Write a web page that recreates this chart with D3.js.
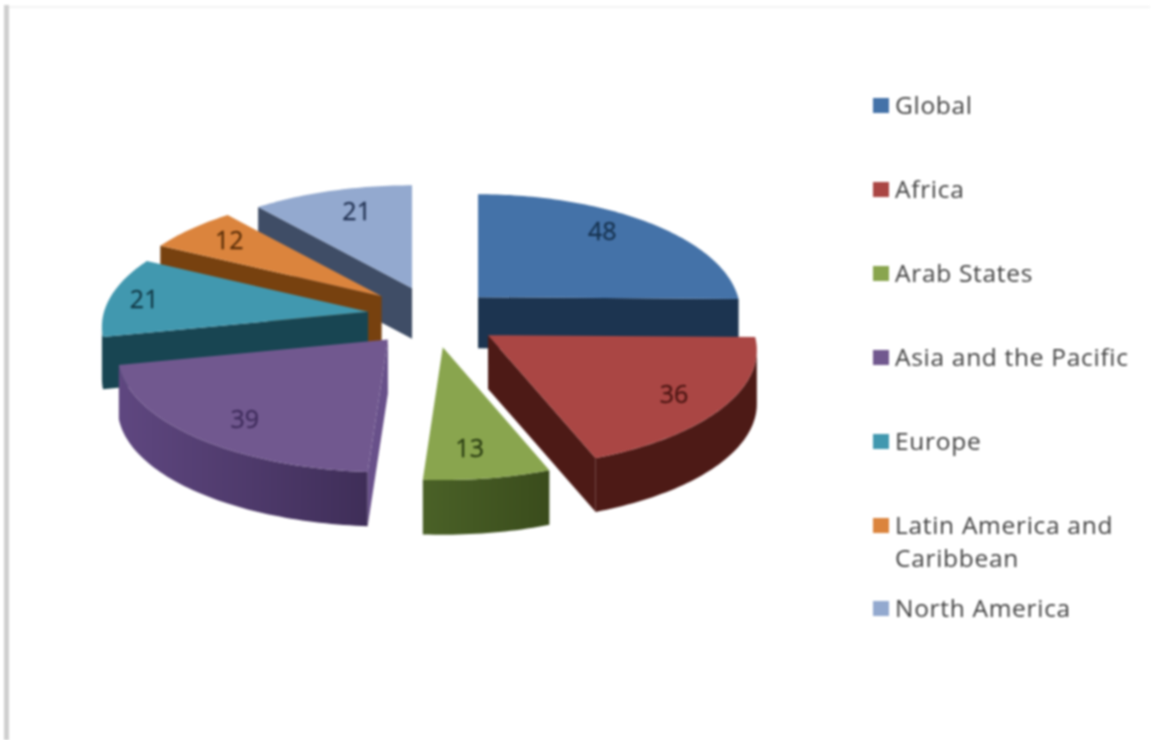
<!DOCTYPE html>
<html><head><meta charset="utf-8">
<script src="https://cdn.jsdelivr.net/npm/d3@7/dist/d3.min.js"></script>
<style>html,body{margin:0;background:#fff}svg{display:block;filter:blur(0.8px)}</style>
</head><body><svg id="c" width="1154" height="740"></svg>
<script>
const categories = ["Global","Africa","Arab States","Asia and the Pacific","Europe","Latin America and Caribbean","North America"];
const values = [48,36,13,39,21,12,21];
const topColors = ["#4472a8","#aa4644","#89a54e","#71588f","#4198af","#db843d","#93a9cf"];
const cutColors = ["#1c3450","#4d1a16","#3f5420","#68508a","#184552","#77410f","#3f4d66"];
const rimLeft  = ["#1c3450","#4d1a16","#4a6127","#5f4780","#184552","#77410f","#3f4d66"];
const rimRight = ["#1c3450","#4d1a16","#3a4c1c","#3f2e58","#184552","#77410f","#3f4d66"];
const labelColors = ["#16324f","#4a1512","#2a3d12","#3f2c5c","#123a47","#5a2e08","#1f2f4f"];
const labelReachX = [.73,.79,.6,.74,.87,.8,.69];
const labelReachY = [.88,.82,.77,.82,.87,.83,.79];
const nudgeX = [0,3,2,0,2.5,2,3.5];
const nudgeY = [0,1,1,0,-2,-3,-2];
const spread = [.985,1.01,1,1.015,1,1,1];
const legendLines = [["Global"],["Africa"],["Arab States"],["Asia and the Pacific"],["Europe"],["Latin America and","Caribbean"],["North America"]];
const legendY = [105.5,189.5,273.5,357.5,441.5,525.5,608.5];

const geo = {cx:431, cy:317.5, ex:66, ey:29, rx:264, ry:116, persp:.127, depth:52.5, depthPersp:.04};
const svg = d3.select("#c");
const defs = svg.append("defs");

// frame
svg.append("rect").attr("x",4).attr("y",5).attr("width",5).attr("height",735).attr("fill","#cfcfcf");
svg.append("rect").attr("x",9).attr("y",6).attr("width",1141).attr("height",2).attr("fill","#f3f3f3");

const arcs = d3.pie().sort(null).value(d=>d)(values);
const line = d3.line();

arcs.forEach((a,i)=>{
  a.mid=(a.startAngle+a.endAngle)/2;
  a.apex=[geo.cx+geo.ex*Math.sin(a.mid)+nudgeX[i], geo.cy-geo.ey*Math.cos(a.mid)+nudgeY[i]];
  a.index=i;
  a.depth=geo.depth/(1+geo.depthPersp*Math.cos(a.mid));
});
function proj(a,t){
  const s=1/(1+geo.persp*Math.cos(t));
  return [a.apex[0]+geo.rx*spread[a.index]*Math.sin(t)*s, a.apex[1]-geo.ry*Math.cos(t)*s];
}
const down=(a,p)=>[p[0],p[1]+a.depth];
function arcPts(a,t0,t1){
  const n=Math.max(2,Math.ceil((t1-t0)/0.02));
  return d3.range(n+1).map(k=>proj(a,t0+(t1-t0)*k/n));
}
function cutVisible(a,t){
  const o=proj(a,t), m=proj(a,a.mid);
  const ex=o[0]-a.apex[0], ey=o[1]-a.apex[1];
  const cross=(vx,vy)=>ex*vy-ey*vx;
  const ci=cross(m[0]-a.apex[0],m[1]-a.apex[1]);
  const cd=cross(0,a.depth);
  return ci*cd<-1e-3;
}
// the wall shows only between the two widest points of the perspective ellipse
const wallFrom=Math.acos(-geo.persp), wallTo=2*Math.PI-wallFrom;

const order=arcs.slice().sort((p,q)=>Math.cos(q.mid)-Math.cos(p.mid));
const g=svg.append("g");
order.forEach(a=>{
  const i=a.index;
  const gid="rim"+i;
  const lg=defs.append("linearGradient").attr("id",gid).attr("x1",0).attr("x2",1).attr("y1",0).attr("y2",0);
  lg.append("stop").attr("offset",0).attr("stop-color",rimLeft[i]);
  lg.append("stop").attr("offset",1).attr("stop-color",rimRight[i]);
  [a.startAngle,a.endAngle].forEach(t=>{
    if(cutVisible(a,t)){
      const o=proj(a,t);
      g.append("path").attr("d",line([a.apex,o,down(a,o),down(a,a.apex)])+"Z").attr("fill",cutColors[i]);
    }
  });
  const t0=Math.max(a.startAngle,wallFrom), t1=Math.min(a.endAngle,wallTo);
  if(t1>t0){
    const pts=arcPts(a,t0,t1);
    g.append("path").attr("d",line(pts.concat(pts.map(p=>down(a,p)).reverse()))+"Z").attr("fill",`url(#${gid})`);
  }
  g.append("path").attr("d",line([a.apex].concat(arcPts(a,a.startAngle,a.endAngle)))+"Z").attr("fill",topColors[i]);
});

// data labels
svg.append("g").selectAll("text").data(arcs).join("text")
  .attr("x",a=>{const o=proj(a,a.mid);return a.apex[0]+(o[0]-a.apex[0])*labelReachX[a.index];})
  .attr("y",a=>{const o=proj(a,a.mid);return a.apex[1]+(o[1]-a.apex[1])*labelReachY[a.index];})
  .attr("dy","0.36em").attr("text-anchor","middle")
  .attr("font-family","'Open Sans',sans-serif").attr("font-size",25)
  .attr("stroke-width",.3).attr("stroke",a=>labelColors[a.index])
  .attr("fill",a=>labelColors[a.index]).text(a=>a.value);

// legend
const lg=svg.append("g").selectAll("g").data(categories).join("g");
lg.append("rect").attr("x",873).attr("y",(d,i)=>legendY[i]-7.5).attr("width",16).attr("height",15).attr("fill",(d,i)=>topColors[i]);
lg.each(function(d,i){
  d3.select(this).selectAll("text").data(legendLines[i]).join("text")
    .attr("x",895).attr("y",(t,k)=>legendY[i]+k*33).attr("dy","0.36em")
    .attr("font-family","'Open Sans',sans-serif").attr("font-size",24.5).attr("letter-spacing",.7)
    .attr("fill","#404040").text(t=>t);
});
</script></body></html>
